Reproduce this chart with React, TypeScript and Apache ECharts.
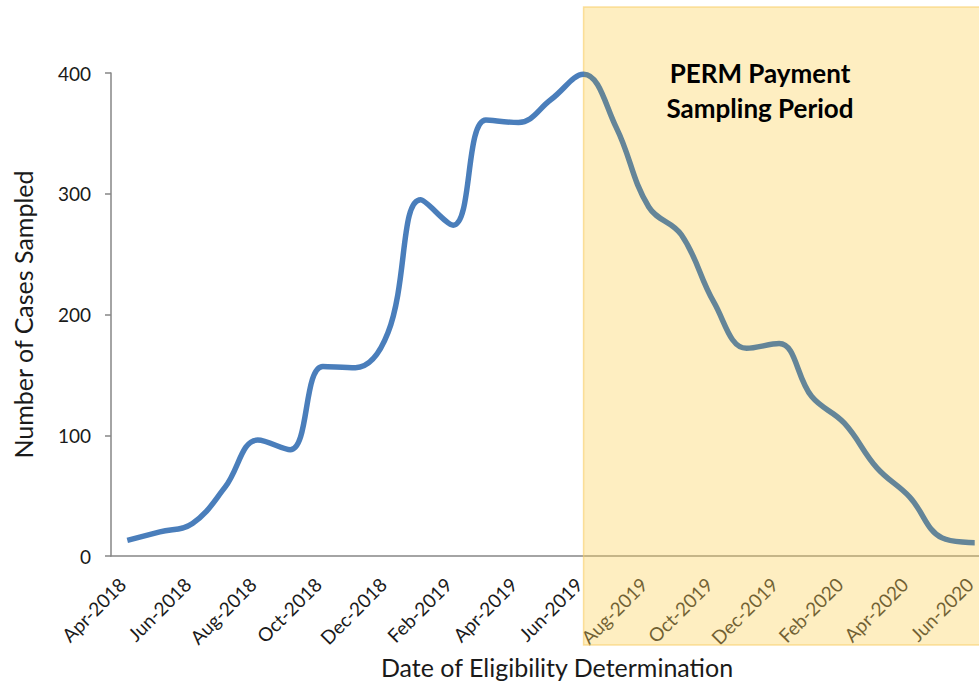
import React, { useEffect, useRef } from "react";
import * as echarts from "echarts";

const months = [
  "Apr-2018", "May-2018", "Jun-2018", "Jul-2018", "Aug-2018", "Sep-2018", "Oct-2018", "Nov-2018", "Dec-2018",
  "Jan-2019", "Feb-2019", "Mar-2019", "Apr-2019", "May-2019", "Jun-2019", "Jul-2019", "Aug-2019", "Sep-2019",
  "Oct-2019", "Nov-2019", "Dec-2019", "Jan-2020", "Feb-2020", "Mar-2020", "Apr-2020", "May-2020", "Jun-2020",
];
const casesSampled = [
  13, 20, 27, 57, 96, 88, 157, 156, 185,
  295, 274, 361, 359, 378, 399, 355, 289, 266,
  210, 172, 176, 132, 110, 73, 49, 15, 11,
];
const yTicks = { min: 0, max: 400, interval: 100 };
const samplingStart = "Jun-2019";
const annotation = "PERM Payment\nSampling Period";
const xTitle = "Date of Eligibility Determination";
const yTitle = "Number of Cases Sampled";

const FONT = "Lato, 'Noto Sans', sans-serif";
const LINE_BLUE = "#4a7ebb";
const LINE_SHADED = "#648598";

export default function App() {
  const ref = useRef<HTMLDivElement>(null);
  useEffect(() => {
    if (!ref.current) return;
    const chart = echarts.init(ref.current, null, { renderer: "svg" });
    chart.setOption({
      animation: false,
      backgroundColor: "#ffffff",
      grid: { left: 111, right: 9, top: 73, bottom: 125, containLabel: false, outerBoundsMode: "none" },
      xAxis: {
        type: "category",
        data: months,
        boundaryGap: true,
        name: xTitle,
        nameLocation: "middle",
        nameGap: 88,
        nameTextStyle: { fontFamily: FONT, fontSize: 25, color: "#1a1a1a", padding: [0, 0, 0, 12] },
        axisLine: { lineStyle: { color: "#868686", width: 1.5 } },
        axisTick: { interval: 4, length: 6, lineStyle: { color: "#868686", width: 1.5 } },
        axisLabel: {
          interval: 1,
          rotate: 45,
          margin: 20,
          padding: [0, 7, 0, 0],
          fontFamily: FONT,
          fontSize: 19,
          color: "#1a1a1a",
        },
        splitLine: { show: false },
      },
      yAxis: {
        type: "value",
        min: yTicks.min,
        max: yTicks.max,
        interval: yTicks.interval,
        name: yTitle,
        nameLocation: "middle",
        nameGap: 76,
        nameTextStyle: { fontFamily: FONT, fontSize: 25, color: "#1a1a1a" },
        axisLine: { show: true, lineStyle: { color: "#868686", width: 1.5 } },
        axisTick: { show: true, length: 6, lineStyle: { color: "#868686", width: 1.5 } },
        axisLabel: { margin: 20, fontFamily: FONT, fontSize: 19, color: "#1a1a1a" },
        splitLine: { show: false },
      },
      series: [
        {
          type: "line",
          data: casesSampled,
          smooth: 0.4,
          showSymbol: false,
          symbol: "none",
          lineStyle: { width: 5.5, color: LINE_BLUE },
          z: 5,
        },
      ],
    });
    const x0 = chart.convertToPixel({ xAxisIndex: 0 }, samplingStart) as number;
    const w = ref.current.clientWidth;
    const f = x0 / w;
    chart.setOption({
      series: [
        {
          lineStyle: {
            color: {
              type: "linear",
              x: 0,
              y: 0,
              x2: w,
              y2: 0,
              global: true,
              colorStops: [
                { offset: 0, color: LINE_BLUE },
                { offset: f, color: LINE_BLUE },
                { offset: f + 0.0001, color: LINE_SHADED },
                { offset: 1, color: LINE_SHADED },
              ],
            },
          },
        },
      ],
      graphic: [
        {
          type: "rect",
          z: 3,
          silent: true,
          shape: { x: x0, y: 7, width: w - x0, height: 638 },
          style: { fill: "rgba(252,210,92,0.38)", stroke: "rgba(248,205,100,0.6)", lineWidth: 1.5 },
        },
        {
          type: "text",
          z: 101,
          x: 760,
          y: 55,
          style: {
            text: annotation,
            fill: "#000000",
            font: `bold 26px ${FONT}`,
            align: "center",
            verticalAlign: "top",
            lineHeight: 35,
          },
        },
      ],
    });
    return () => chart.dispose();
  }, []);
  return (
    <div style={{ position: "fixed", left: 0, top: 0, width: 979, height: 681, overflow: "hidden", background: "#fff" }}>
      <div ref={ref} style={{ width: 1000, height: 681 }} />
    </div>
  );
}
